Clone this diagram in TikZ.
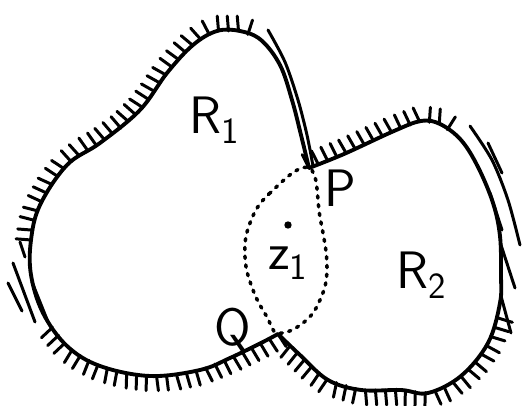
\documentclass[tikz,border=0pt]{standalone}
\usepackage{tikz}
\usetikzlibrary{decorations.pathreplacing}

\tikzset{
  rim/.style={line width=2.2pt, line join=round, line cap=round},
  hatch/.style={line width=1.7pt, line cap=round, decorate,
    decoration={border, segment length=0.2cm, amplitude=0.3cm, angle=95}},
  longhatch/.style={line width=1.7pt, line cap=round},
  dots/.style={line width=2pt, line cap=round, dash pattern=on 1.3pt off 3.7pt},
  lbl/.style={font=\fontsize{30}{34}\sffamily, inner sep=0pt},
  pt/.style={circle, fill, inner sep=0pt, minimum size=4.2pt},
}

\begin{document}
\begin{tikzpicture}[x=0.02cm, y=-0.02cm]
\useasboundingbox (0,0) rectangle (522,406);

\coordinate (P) at (309,168);
\coordinate (Q) at (278,334);

% outline of R1 (Q round to P)
\draw[rim] plot[smooth, tension=0.6] coordinates {(278,334) (261,343) (230,358) (200,370) (150,376) (100,366) (67,346) (43,313) (31,275) (31,240) (40,205) (67,165) (100,143) (140,110) (167,73) (193,45) (217,31) (240,31) (261,40) (280,65) (292,100) (301,135) (309,168)};
% outline of R2 (P round to Q)
\draw[rim] plot[smooth, tension=0.6] coordinates {(309,168) (344,154) (394,131) (421,121) (440,124) (461,140) (478,167) (493,203) (500,236) (501,275) (500,303) (488,343) (461,376) (428,393) (401,390) (361,390) (328,380) (300,355) (278,334)};

% hatching, short ticks
\draw[hatch] (Q) -- (261,343) -- (230,358) -- (200,370) -- (175,375) -- (150,376) -- (125,373) -- (100,366) -- (82,357) -- (67,346) -- (45,318);
\draw[hatch] (31,240) -- (34,222) -- (40,205) -- (52,184) -- (67,165) -- (83,153) -- (100,143) -- (121,128) -- (140,110) -- (154,92) -- (167,73) -- (180,58) -- (193,45) -- (205,36) -- (217,31) -- (240,31) -- (261,40);
\draw[hatch] (P) -- (344,154) -- (370,142) -- (394,131) -- (421,121) -- (440,124) -- (461,140);
\draw[hatch] (498,318) -- (488,343) -- (476,361) -- (461,376) -- (445,387) -- (428,393) -- (401,390) -- (361,390) -- (328,380) -- (312,367) -- (300,355) -- (Q);

% hatching, long strokes
\draw[longhatch] plot[smooth] coordinates {(268,30) (285,62) (298,100) (307,135) (313,166)};
\draw[longhatch] plot[smooth] coordinates {(470,126) (492,160) (508,200) (520,245)};
\draw[longhatch] (488,143) -- (502,173);
\draw[longhatch] (490,193) -- (502,230);
\draw[longhatch] (501,245) -- (515,288);
\draw[longhatch] (501,296) -- (511,333);
\draw[longhatch] (13,263) -- (35,322);
\draw[longhatch] (8,283) -- (22,311);
\draw[longhatch] (20,242) -- (25,257);
\draw[longhatch] (32,282) -- (48,322);

% curve round z_1
\draw[dots] plot[smooth cycle, tension=0.7] coordinates {(309,168) (270,193) (250,223) (245,257) (253,290) (267,317) (278,333) (303,323) (320,300) (327,267) (320,217)};

\node[pt] (zdot) at (288,225) {};
\node[lbl] (z1) at (288,263) {z\textsubscript{1}};
\node[lbl] (r1) at (215,120) {R\textsubscript{1}};
\node[lbl] (r2) at (422,275) {R\textsubscript{2}};
\node[lbl] (p) at (340,188) {P};
\node[lbl] (q) at (233,330) {Q};
\end{tikzpicture}
\end{document}
